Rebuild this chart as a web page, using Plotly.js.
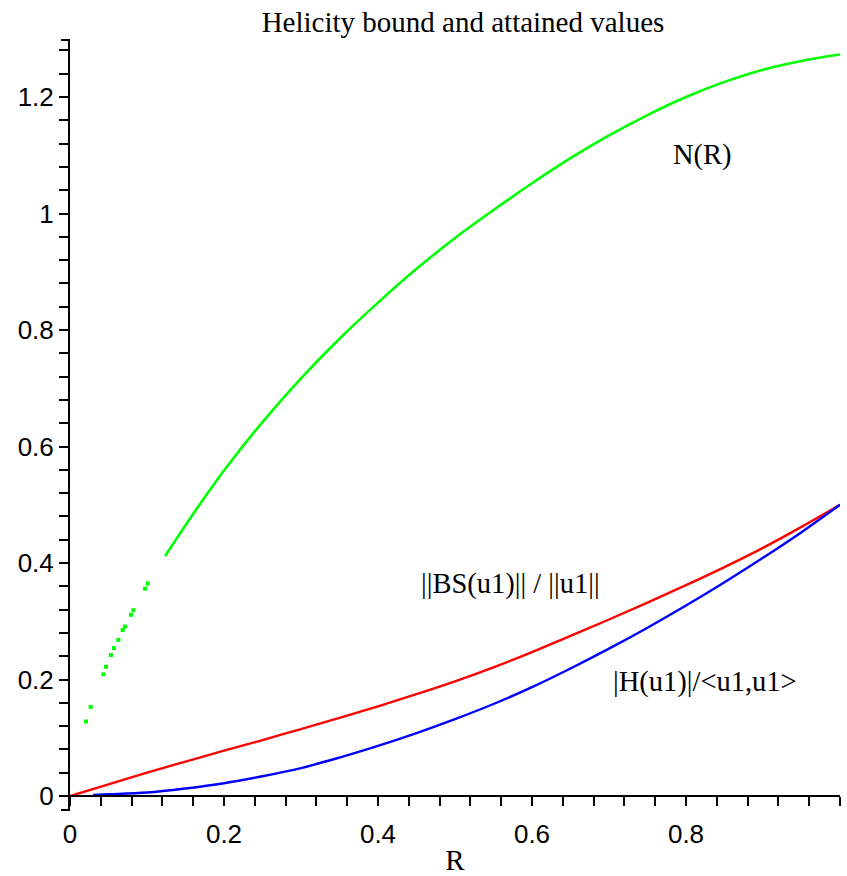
<!DOCTYPE html>
<html>
<head>
<meta charset="utf-8">
<script src="https://cdn.plot.ly/plotly-3.0.1.min.js"></script>
<style>html,body{margin:0;padding:0;background:#fff;}#chart{width:847px;height:876px;}</style>
</head>
<body>
<div id="chart"></div>
<script>
// ---- data ----
const redR = [0, 0.05, 0.1, 0.15, 0.2, 0.25, 0.3, 0.35, 0.4, 0.45, 0.5, 0.55, 0.6, 0.65, 0.7, 0.75, 0.8, 0.85, 0.9, 0.95, 1.0];
const redBS = [0.000, 0.020, 0.040, 0.059, 0.078, 0.096, 0.115, 0.134, 0.154, 0.175, 0.197, 0.221, 0.247, 0.275, 0.303, 0.332, 0.362, 0.393, 0.426, 0.462, 0.500];

const blueR = [0.03, 0.05, 0.1, 0.15, 0.2, 0.25, 0.3, 0.35, 0.4, 0.45, 0.5, 0.55, 0.6, 0.65, 0.7, 0.75, 0.8, 0.85, 0.9, 0.95, 1.0];
const blueH = [0.002, 0.003, 0.006, 0.013, 0.022, 0.034, 0.048, 0.066, 0.086, 0.108, 0.132, 0.158, 0.187, 0.219, 0.253, 0.289, 0.327, 0.367, 0.409, 0.453, 0.500];

const greenDotR = [0.0208, 0.0268, 0.0433, 0.0468, 0.0532, 0.0571, 0.0628, 0.0684, 0.0714, 0.0792, 0.0823, 0.0974, 0.1010];
const greenDotN = [0.128, 0.153, 0.209, 0.222, 0.242, 0.254, 0.268, 0.285, 0.291, 0.311, 0.319, 0.356, 0.365];

const greenR = [0.1234, 0.15, 0.175, 0.2, 0.25, 0.3, 0.35, 0.4, 0.45, 0.5, 0.55, 0.6, 0.65, 0.7, 0.75, 0.8, 0.85, 0.9, 0.95, 1.0];
const greenN = [0.412, 0.465, 0.513, 0.559, 0.642, 0.717, 0.785, 0.847, 0.905, 0.958, 1.006, 1.052, 1.095, 1.134, 1.169, 1.200, 1.226, 1.247, 1.262, 1.273];

const xTickVals = [0, 0.2, 0.4, 0.6, 0.8, 1];
const xTickText = ["0", "0.2", "0.4", "0.6", "0.8", "1"];
const yTickVals = [0, 0.2, 0.4, 0.6, 0.8, 1, 1.2];
const yTickText = ["0", "0.2", "0.4", "0.6", "0.8", "1", "1.2"];

const titleText = "Helicity bound and attained values";
const xTitle = "R";
const labelN = "N(R)";
const labelBS = "||BS(u1)|| / ||u1||";
const labelH = "|H(u1)|/&lt;u1,u1&gt;";

// ---- chart ----
const traces = [
  {x: redR, y: redBS, mode: 'lines', line: {color: '#ff0000', width: 2.4, shape: 'spline', smoothing: 1}, cliponaxis: false, hoverinfo: 'skip'},
  {x: blueR, y: blueH, mode: 'lines', line: {color: '#0000ff', width: 2.4, shape: 'spline', smoothing: 1}, cliponaxis: false, hoverinfo: 'skip'},
  {x: greenR, y: greenN, mode: 'lines', line: {color: '#00ff00', width: 2.6, shape: 'spline', smoothing: 1}, cliponaxis: false, hoverinfo: 'skip'},
  {x: greenDotR, y: greenDotN, mode: 'markers', marker: {color: '#00ff00', size: 4, symbol: 'square', line: {width: 0}}, cliponaxis: false, hoverinfo: 'skip'}
];

const sansFont = {family: 'Liberation Sans, Arial, sans-serif', size: 26, color: '#000'};
const serifFont = {family: 'Liberation Serif, Times New Roman, serif', size: 28.5, color: '#000'};

const layout = {
  width: 847, height: 876,
  margin: {l: 70, r: 7, t: 40, b: 66, pad: 0},
  paper_bgcolor: '#fff', plot_bgcolor: '#fff',
  showlegend: false,
  title: {text: titleText, font: {family: serifFont.family, size: 29, color: '#000'},
          xref: 'paper', x: 0.5104, xanchor: 'center', yref: 'container', y: 1 - 22 / 876, yanchor: 'middle'},
  xaxis: {
    range: [0, 1], anchor: 'free', position: 14 / 770,
    showgrid: false, zeroline: false, showline: true, linecolor: '#000', linewidth: 2,
    ticks: 'outside', ticklen: 9, tickwidth: 2, tickcolor: '#000',
    tickvals: xTickVals, ticktext: xTickText, tickfont: sansFont, ticklabelstandoff: 6,
    minor: {dtick: 0.04, tick0: 0, ticks: 'outside', ticklen: 9, tickwidth: 2, tickcolor: '#000', showgrid: false},
    title: {text: xTitle, font: {family: serifFont.family, size: 29, color: '#000'}, standoff: 7}
  },
  yaxis: {
    range: [-0.0240, 1.2979],
    showgrid: false, zeroline: false, showline: true, linecolor: '#000', linewidth: 2,
    ticks: 'outside', ticklen: 9, tickwidth: 2, tickcolor: '#000',
    tickvals: yTickVals, ticktext: yTickText, tickfont: sansFont, ticklabelstandoff: 0,
    minor: {dtick: 0.04, tick0: 0, ticks: 'outside', ticklen: 9, tickwidth: 2, tickcolor: '#000', showgrid: false}
  },
  shapes: [
    {type: 'line', xref: 'paper', yref: 'paper', x0: -9 / 770, x1: 0, y0: 1, y1: 1, line: {color: '#000', width: 2}},
    {type: 'line', xref: 'paper', yref: 'paper', x0: -9 / 770, x1: 0, y0: 0, y1: 0, line: {color: '#000', width: 2}}
  ],
  annotations: [
    {text: labelN, x: 0.8208, y: 1.100, xref: 'x', yref: 'y', showarrow: false, xanchor: 'center', yanchor: 'middle', font: serifFont},
    {text: labelBS, x: 0.572, y: 0.364, xref: 'x', yref: 'y', showarrow: false, xanchor: 'center', yanchor: 'middle', font: serifFont},
    {text: labelH, x: 0.8247, y: 0.196, xref: 'x', yref: 'y', showarrow: false, xanchor: 'center', yanchor: 'middle', font: serifFont}
  ]
};

Plotly.newPlot('chart', traces, layout, {staticPlot: true, displayModeBar: false});
</script>
</body>
</html>
